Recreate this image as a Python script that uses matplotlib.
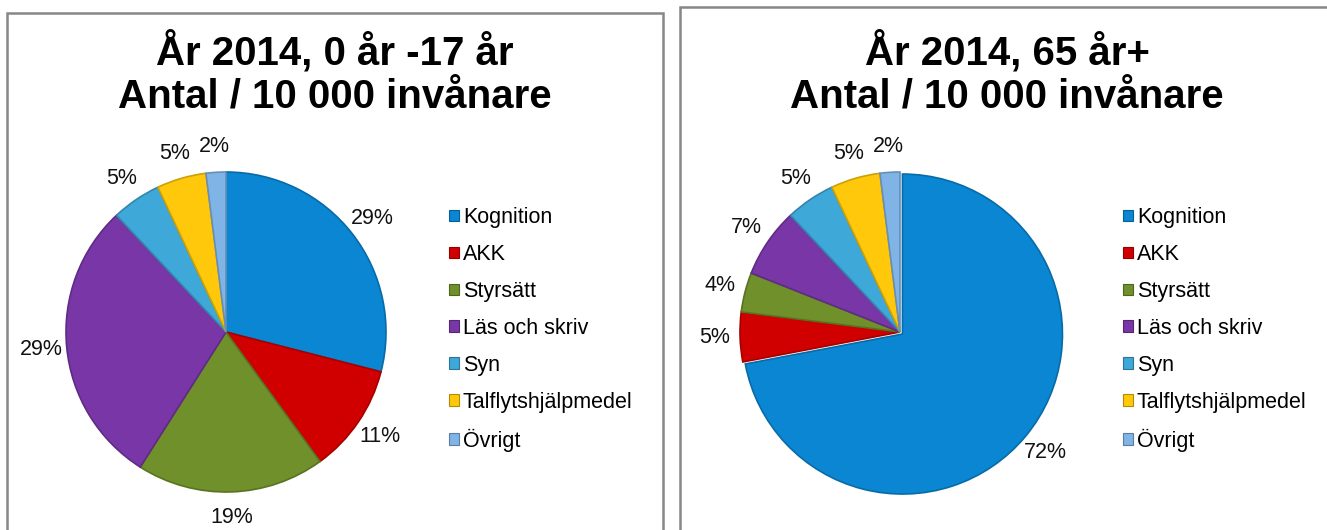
import matplotlib
matplotlib.use('Agg')
import matplotlib.pyplot as plt
from matplotlib.patches import Rectangle, Patch
from matplotlib.colors import to_rgb

plt.rcParams['font.family'] = ['Liberation Sans', 'DejaVu Sans']

# data (percent of patients per aid category)
categories = ['Kognition', 'AKK', 'Styrsätt', 'Läs och skriv', 'Syn',
              'Talflytshjälpmedel', 'Övrigt']
share_0_17 = [29, 11, 19, 29, 5, 5, 2]
share_65 = [72, 5, 4, 7, 5, 5, 2]
title_0_17 = 'År 2014, 0 år -17 år\nAntal / 10 000 invånare'
title_65 = 'År 2014, 65 år+\nAntal / 10 000 invånare'

colors = ['#0A86D2', '#D00000', '#6F902A', '#7836A6', '#3EA8D8', '#FFC80A', '#80B3E6']

W, H = 1327, 530
fig = plt.figure(figsize=(W / 100, H / 100), dpi=100)


def shade(c, f):
    r, g, b = to_rgb(c)
    return (r * f, g * f, b * f)


def fx(x):
    return x / W


def fy(y):
    return 1 - y / H


# panel frames
for x0, y0, x1, y1 in [(7, 13, 663, 560), (680, 7, 1360, 560)]:
    fig.patches.append(Rectangle((fx(x0), fy(y1)), fx(x1 - x0), (y1 - y0) / H,
                                 transform=fig.transFigure, fill=False,
                                 edgecolor='#878787', linewidth=1.8, clip_on=False))


def draw_panel(values, title, cx, cy, title_x, legend_x, explode):
    r = 160
    s = 2.5 * r
    ax = fig.add_axes([fx(cx - s / 2), fy(cy + s / 2), s / W, s / H])
    wedges, texts, autotexts = ax.pie(values, colors=colors, startangle=90,
                                      counterclock=False, explode=explode,
                                      autopct='%1.0f%%', pctdistance=1.16,
                                      wedgeprops=dict(linewidth=1.2),
                                      textprops=dict(fontsize=15.5, color='#111111'))
    for w, c in zip(wedges, colors):
        w.set_edgecolor(shade(c, 0.8))
    ax.set_xlim(-1.25, 1.25)
    ax.set_ylim(-1.25, 1.25)
    ax.set_aspect('equal')

    fig.text(fx(title_x), fy(73), title, ha='center', va='center',
             fontsize=29, fontweight='bold', linespacing=1.18)

    handles = [Patch(facecolor=c, edgecolor=shade(c, 0.7), linewidth=0.8) for c in colors]
    fig.legend(handles, categories, loc='center left',
               bbox_to_anchor=(fx(legend_x), fy(329.5)), frameon=False,
               fontsize=15.5, handlelength=0.45, handleheight=0.45,
               handletextpad=0.2, labelspacing=0.74, borderpad=0, borderaxespad=0)


draw_panel(share_0_17, title_0_17, 226, 332, 335, 449, [0] * 7)
draw_panel(share_65, title_65, 900, 332, 1007, 1123, [0.02, 0, 0, 0, 0, 0, 0])

fig.savefig('out.png', dpi=100)
